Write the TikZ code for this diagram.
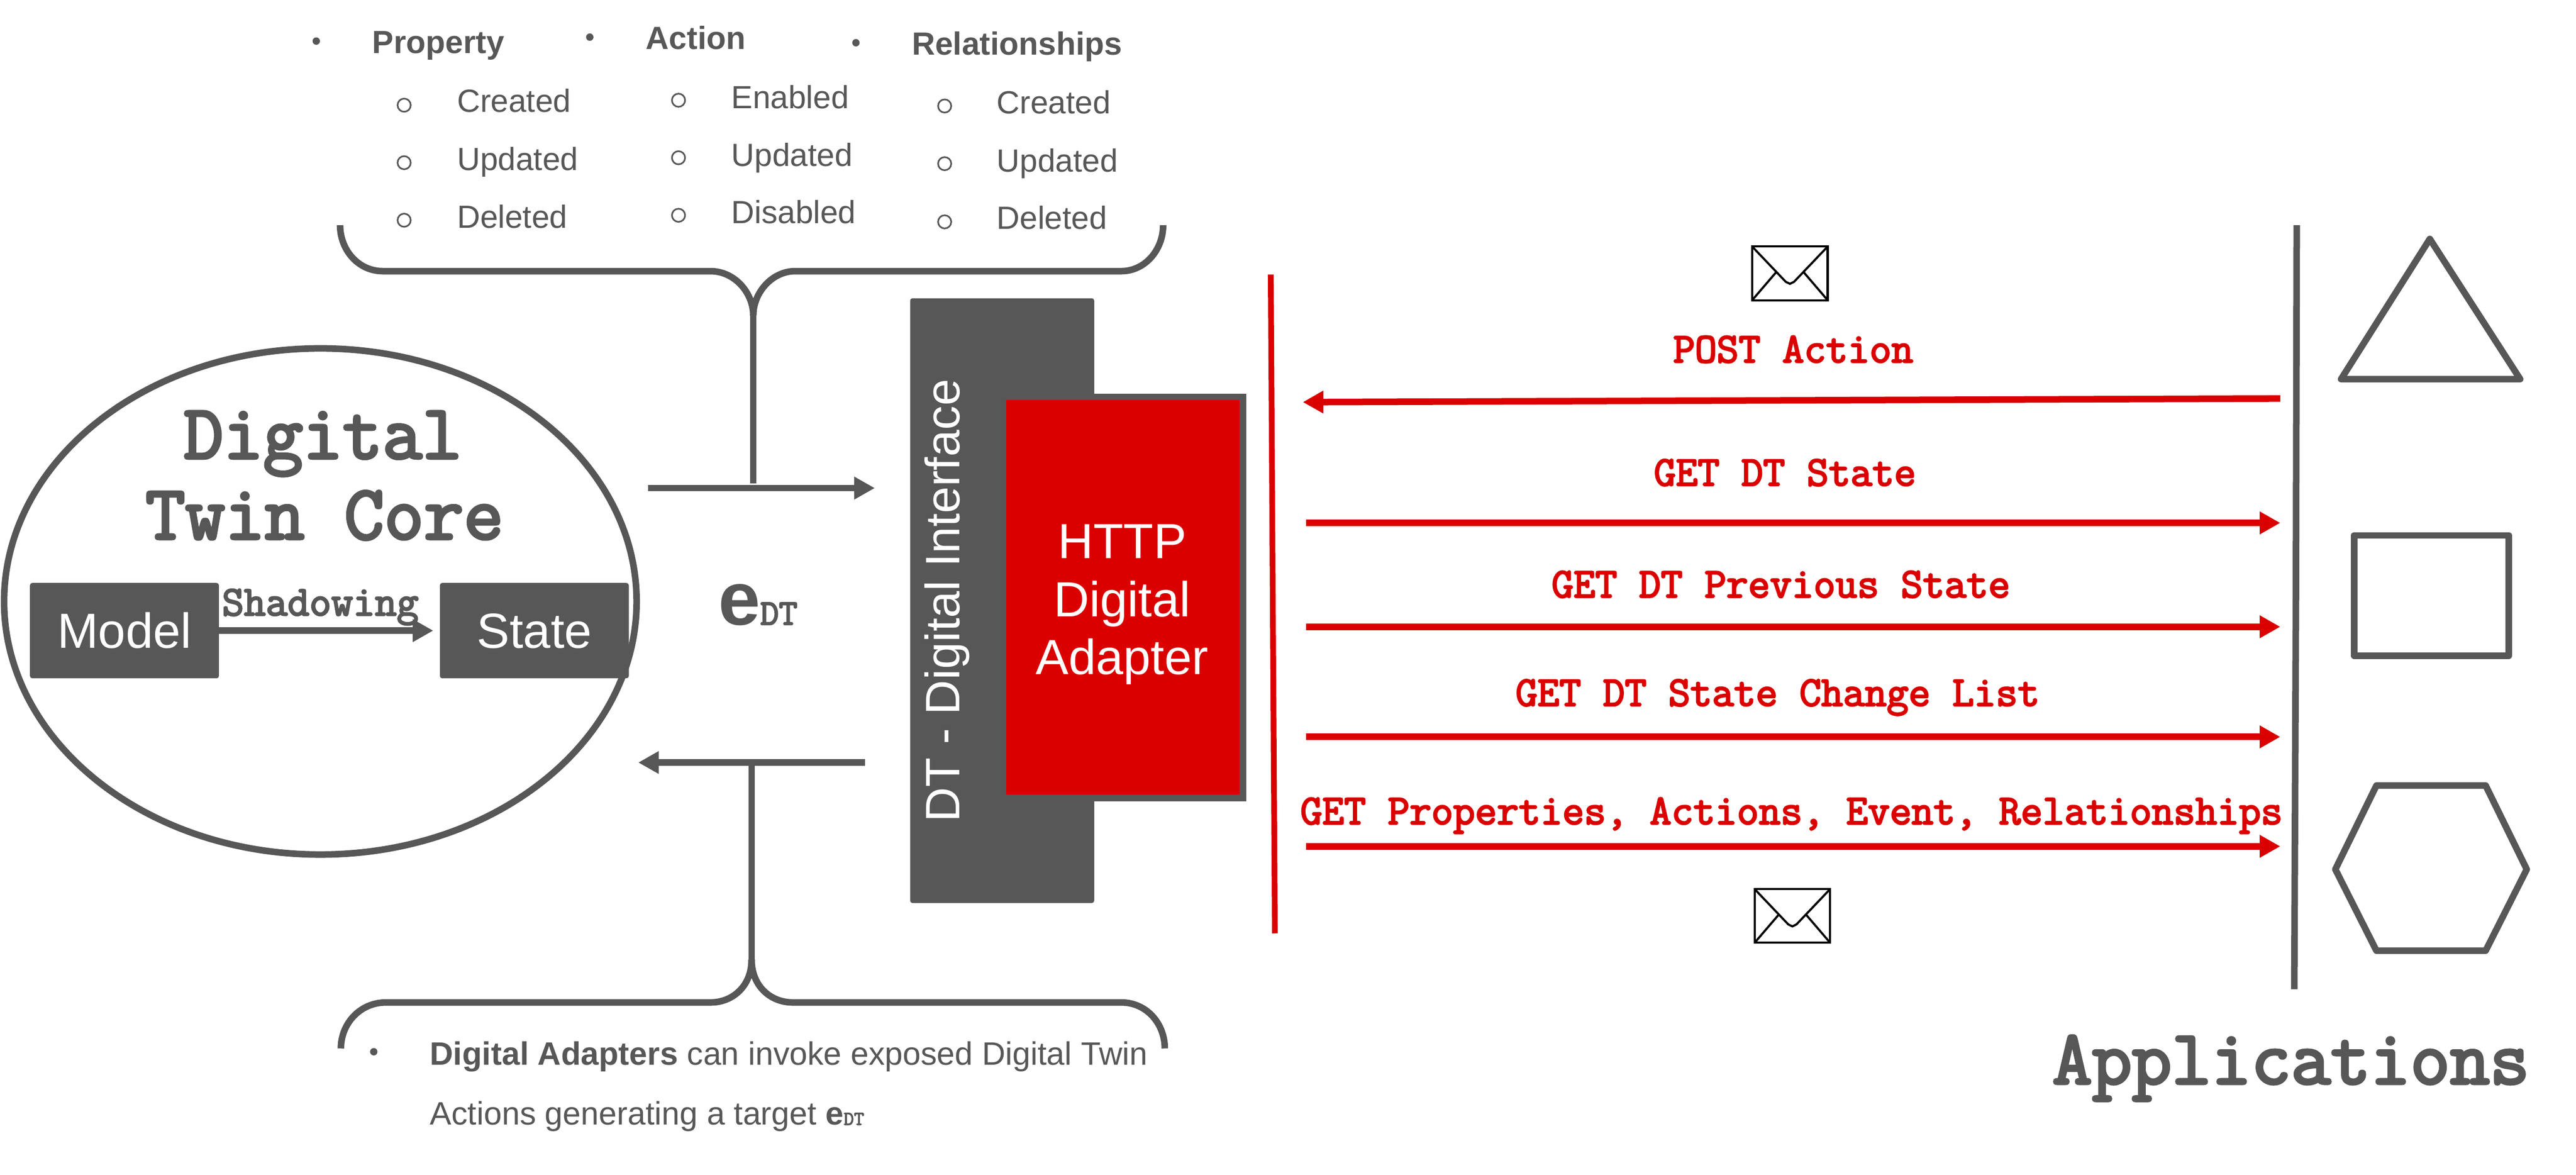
\documentclass[tikz,border=0pt]{standalone}
\usepackage{fontspec}
\setmainfont{Liberation Sans}
\newfontfamily\courier[FakeBold=3.5]{Latin Modern Mono}
\usetikzlibrary{arrows.meta, positioning, shapes.geometric}
\definecolor{grigio}{HTML}{575757}
\definecolor{rosso}{HTML}{DB0000}
\newcommand{\fsz}[1]{\fontsize{#1}{#1}\selectfont}
\tikzset{
	txt/.style = {inner sep=0, text=grigio, font=\fsz{19.5}, anchor=west, text height=14.1pt, text depth=0pt},
	head/.style = {txt, font=\fsz{19.5}\bfseries},
	note/.style = {txt, font=\fsz{19.7}},
	dot/.style = {circle, fill=grigio, inner sep=0, minimum size=4.5pt},
	ring/.style = {circle, draw=grigio, line width=1pt, inner sep=0, minimum size=8pt},
	brace/.style = {draw=grigio, line width=4pt},
	box/.style = {fill=grigio, draw=grigio, rounded corners=1pt, line width=1pt, text=white, font=\fsz{30}, inner sep=0},
	boxtxt/.style = {inner sep=0, text=white, font=\fsz{30}, text height=21.5pt, text depth=0pt},
	mono/.style = {inner sep=0, font=\fsz{47}\courier, text=grigio, text height=29pt, text depth=0pt},
	reqlabel/.style = {inner sep=0, font=\fsz{25.8}\courier, text=rosso, text height=15pt, text depth=0pt},
	reqarrow/.style = {->, draw=rosso, line width=4pt},
	gline/.style = {->, draw=grigio, line width=4pt},
	figura/.style = {draw=grigio, line width=4pt, line join=round},
	busta/.style = {draw=black, line width=1.3pt}
}

\begin{document}
\begin{tikzpicture}[x=1pt, y=-1pt, > = {Triangle[length=12.5pt, width=13pt]}]
	\useasboundingbox (0,0) rectangle (1568,714.7);

	% event lists on top
	\node [dot] (dotA) at (192.5,25) {};
	\node [head] (prop) at (226.5,25.5) {Property};
	\node [dot] (dotB) at (359,22.6) {};
	\node [head] (act) at (393,23) {Action};
	\node [dot] (dotC) at (521,26) {};
	\node [head] (rel) at (555,26.3) {Relationships};

	\foreach \n/\rx/\tx/\ry/\ty/\lab in {
		a/246/278/64/61/Created, b/246/278/99/96.7/Updated, c/246/278/134/131.8/Deleted,
		d/413/445/61/59/Enabled, e/413/445/96/94/Updated, f/413/445/131/129/Disabled,
		g/575/606.5/64.5/62/Created, h/575/606.5/99.6/97.6/Updated, i/575/606.5/135/132.4/Deleted}
	{
		\node [ring] (ring\n) at (\rx,\ry) {};
		\node [txt] (item\n) at (\tx,\ty) {\lab};
	}

	% braces
	\coordinate (braceTop) at (458.5,192);
	\coordinate (braceBot) at (457.5,584);
	\draw [brace] (207,137) .. controls (207,152) and (218,165) .. (233,165) -- (432.5,165)
		.. controls (447,165) and (458.5,178) .. (braceTop);
	\draw [brace] (708,137) .. controls (708,152) and (697,165) .. (682.5,165) -- (484,165)
		.. controls (470,165) and (458.5,178) .. (braceTop);
	\draw [brace] (207.5,638) .. controls (207.5,623) and (219,610) .. (235,610) -- (432.5,610)
		.. controls (446,610) and (457.5,600) .. (braceBot);
	\draw [brace] (709,638) .. controls (709,623) and (698,610) .. (682.5,610) -- (482.5,610)
		.. controls (469,610) and (457.5,600) .. (braceBot);

	% core
	\node [draw=grigio, line width=4pt, ellipse, minimum width=385pt, minimum height=308pt, inner sep=0] (core) at (195,366) {};
	\node [mono] (coreA) at (196.5,264.5) {Digital};
	\node [mono] (coreB) at (197.5,313.5) {Twin Core};
	\node [box, minimum width=114pt, minimum height=57pt, text height=21.5pt, text depth=0pt] (model) at (75.75,383.75) {Model};
	\node [box, minimum width=114pt, minimum height=57pt, text height=21.5pt, text depth=0pt] (state) at (325.25,383.75) {State};
	\draw [gline, shorten >=4pt] (model) -- (state);
	\node [reqlabel, text=grigio] (shad) at (195,367) {Shadowing};

	% e_DT
	\node [inner sep=0, text=grigio, anchor=west] (edt) at (437,368)
		{{\fsz{46}\bfseries e}{\fsz{22}\courier DT}};

	% interface and adapter
	\node [box, minimum width=111pt, minimum height=367pt] (iface) at (610,365.5) {};
	\node [inner sep=0, text=white, font=\fsz{29.4}, rotate=90] (ifaceT) at (576.5,365.5) {DT - Digital Interface};
	\node [fill=rosso, draw=grigio, line width=4pt, minimum width=146pt, minimum height=244pt, inner sep=0] (http) at (683.5,363.5) {};
	\node [boxtxt] (httpA) at (683,329) {HTTP};
	\node [boxtxt] (httpB) at (683,364.5) {Digital};
	\node [boxtxt] (httpC) at (683,399.5) {Adapter};

	% grey arrows core - interface
	\coordinate (upL) at (394.5,297);
	\coordinate (upR) at (532.5,297);
	\coordinate (upT) at (458.5,294);
	\coordinate (loR) at (526.5,464);
	\coordinate (loL) at (388.5,464);
	\coordinate (loT) at (457.5,464);
	\draw [gline] (upL) -- (upR);
	\draw [gline] (loR) -- (loL);
	\draw [brace] (braceTop) -- (upT);
	\draw [brace] (braceBot) -- (loT);

	% bottom text
	\node [dot] (dotD) at (227.5,640) {};
	\node [note] (noteA) at (261.5,641) {\textbf{Digital Adapters} can invoke exposed Digital Twin};
	\node [note] (noteB) at (261.5,677.5) {Actions generating a target {\bfseries e{\fsz{12}\courier DT}}};

	% separators
	\coordinate (redT) at (773.5,167);
	\coordinate (redB) at (776,568);
	\draw [draw=rosso, line width=3.5pt] (redT) -- (redB);
	\coordinate (appT) at (1398,137);
	\coordinate (appM) at (1397.5,365);
	\coordinate (appB) at (1396.5,602);
	\draw [draw=grigio, line width=4pt] (appT) -- (appM) -- (appB);

	% requests
	\coordinate (postA) at (1388,242.5);
	\coordinate (postB) at (793,244.7);
	\draw [reqarrow] (postA) -- (postB);
	\node [reqlabel] (postL) at (1091.5,213) {POST Action};
	\foreach \n/\ay/\lx/\ly/\lab in {
		s/318.2/1086.5/288/GET DT State,
		p/381.4/1084/356/GET DT Previous State,
		c/448.4/1082/422/GET DT State Change List,
		r/515/1090.5/494/{GET Properties, Actions, Event, Relationships}}
	{
		\coordinate (req\n A) at (795,\ay);
		\coordinate (req\n B) at (1388,\ay);
		\draw [reqarrow] (req\n A) -- (req\n B);
		\node [reqlabel] (req\n L) at (\lx,\ly) {\lab};
	}

	% envelopes
	\foreach \ex/\ey in {1066.5/150, 1068/541}
	{
		\draw [busta] (\ex,\ey) rectangle ++(46,32.7);
		\draw [busta] (\ex,\ey) -- ++(20.5,21.5) -- ++(2.5,1.2) -- ++(2.5,-1.2) -- ++(20.5,-21.5);
		\draw [busta] (\ex,\ey+32.7) -- ++(15,-17.5);
		\draw [busta] (\ex+46,\ey+32.7) -- ++(-15,-17.5);
	}

	% applications
	\draw [figura] (1479,145.4) -- (1534,230.7) -- (1425,230.7) -- cycle;
	\draw [figura] (1433,325.8) rectangle (1527,399);
	\draw [figura] (1421.5,529) -- (1446.5,478) -- (1513,478) -- (1538,529) -- (1513,578.5) -- (1446.5,578.5) -- cycle;
	\node [mono] (apps) at (1394.5,645) {Applications};
\end{tikzpicture}
\end{document}
